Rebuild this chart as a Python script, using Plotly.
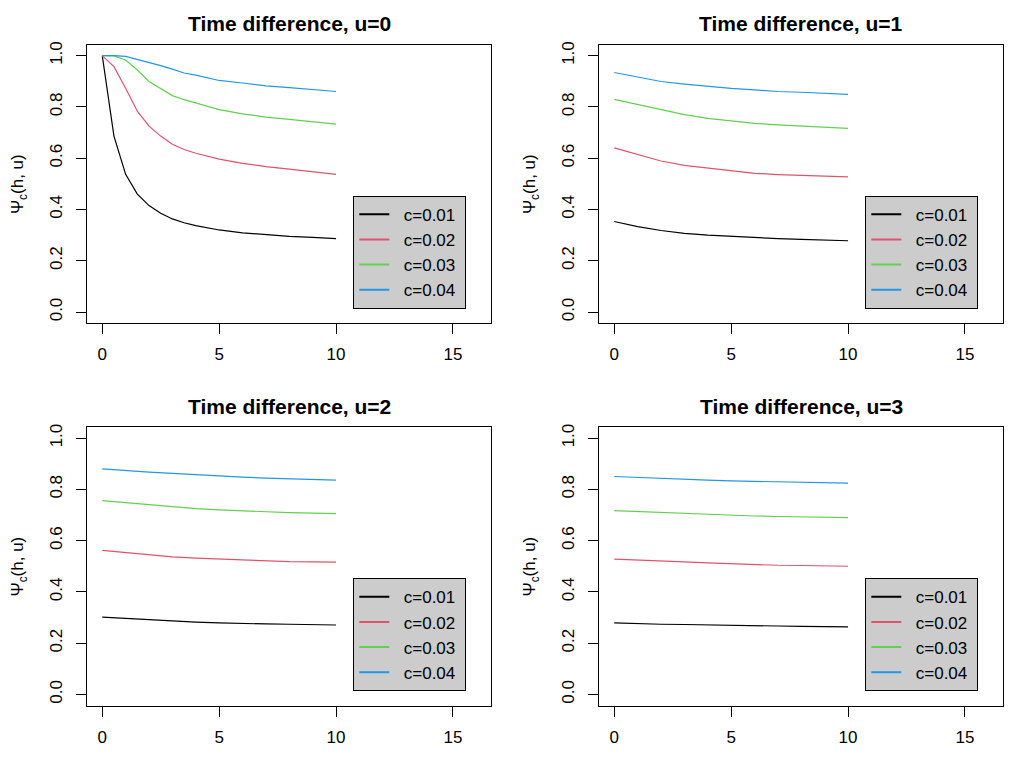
import plotly.graph_objects as go

# ---- data ----
series_names = ["c=0.01", "c=0.02", "c=0.03", "c=0.04"]
colors = ["#000000", "#DF536B", "#61D04F", "#2297E6"]
panel_titles = ["Time difference, u=0", "Time difference, u=1",
                "Time difference, u=2", "Time difference, u=3"]

h_u0 = [0, 0.5, 1, 1.5, 2, 2.5, 3, 3.5, 4, 5, 6, 7, 8, 9, 10]
u0_c01 = [1.0, 0.686, 0.537, 0.460, 0.415, 0.385, 0.363, 0.348, 0.337, 0.320, 0.309, 0.301, 0.295, 0.291, 0.286]
u0_c02 = [1.0, 0.957, 0.873, 0.783, 0.725, 0.686, 0.654, 0.634, 0.619, 0.596, 0.580, 0.567, 0.557, 0.548, 0.537]
u0_c03 = [1.0, 0.999, 0.983, 0.944, 0.899, 0.870, 0.844, 0.828, 0.815, 0.789, 0.773, 0.760, 0.751, 0.742, 0.733]
u0_c04 = [1.0, 1.0, 0.997, 0.986, 0.974, 0.961, 0.947, 0.932, 0.924, 0.903, 0.893, 0.882, 0.875, 0.867, 0.860]

h = [0, 1, 2, 3, 4, 5, 6, 7, 8, 9, 10]
u1_c01 = [0.353, 0.333, 0.318, 0.307, 0.300, 0.295, 0.289, 0.286, 0.283, 0.280, 0.278]
u1_c02 = [0.640, 0.615, 0.589, 0.572, 0.561, 0.550, 0.541, 0.536, 0.532, 0.530, 0.527]
u1_c03 = [0.829, 0.809, 0.787, 0.770, 0.755, 0.745, 0.736, 0.730, 0.725, 0.720, 0.716]
u1_c04 = [0.934, 0.916, 0.899, 0.889, 0.880, 0.872, 0.866, 0.860, 0.857, 0.853, 0.849]

u2_c01 = [0.302, 0.297, 0.291, 0.286, 0.282, 0.279, 0.276, 0.275, 0.274, 0.273, 0.271]
u2_c02 = [0.562, 0.554, 0.545, 0.537, 0.532, 0.528, 0.525, 0.521, 0.518, 0.517, 0.516]
u2_c03 = [0.756, 0.748, 0.739, 0.731, 0.725, 0.720, 0.716, 0.712, 0.709, 0.707, 0.705]
u2_c04 = [0.880, 0.873, 0.867, 0.862, 0.857, 0.851, 0.848, 0.844, 0.841, 0.838, 0.836]

u3_c01 = [0.279, 0.276, 0.274, 0.273, 0.271, 0.269, 0.267, 0.267, 0.266, 0.265, 0.264]
u3_c02 = [0.528, 0.525, 0.521, 0.517, 0.513, 0.509, 0.506, 0.504, 0.503, 0.501, 0.500]
u3_c03 = [0.717, 0.713, 0.709, 0.705, 0.702, 0.699, 0.696, 0.694, 0.692, 0.691, 0.690]
u3_c04 = [0.850, 0.846, 0.842, 0.839, 0.836, 0.833, 0.831, 0.829, 0.827, 0.826, 0.824]

panels = [
    (h_u0, [u0_c01, u0_c02, u0_c03, u0_c04]),
    (h, [u1_c01, u1_c02, u1_c03, u1_c04]),
    (h, [u2_c01, u2_c02, u2_c03, u2_c04]),
    (h, [u3_c01, u3_c02, u3_c03, u3_c04]),
]

x_ticks = [0, 5, 10, 15]
y_ticks = [0.0, 0.2, 0.4, 0.6, 0.8, 1.0]
y_tick_text = ["0.0", "0.2", "0.4", "0.6", "0.8", "1.0"]

# ---- layout geometry (window pixels; page body has an 8px margin) ----
OFF = 8
W, H = 1024 - 2 * OFF, 768 - 2 * OFF
col_x = [(87.3, 491.3), (599.3, 1003.3)]
row_y = [(41.7, 321.3), (425.7, 705.3)]


def px_x(p):
    return (p - OFF) / W


def px_y(p):
    return 1 - (p - OFF) / H


FONT = "Liberation Sans, Arial, sans-serif"
NB = "\u00a0"
fig = go.Figure()
layout = dict(
    width=W, height=H, margin=dict(l=0, r=0, t=0, b=0),
    paper_bgcolor="white", plot_bgcolor="white",
    font=dict(family=FONT, size=16, color="black"),
    showlegend=True,
)
annotations = []

for i, (xs, ys_list) in enumerate(panels):
    r, c = divmod(i, 2)
    ax = "" if i == 0 else str(i + 1)
    lg = "legend" if i == 0 else f"legend{i + 1}"
    for name, col, ys in zip(series_names, colors, ys_list):
        fig.add_trace(go.Scatter(
            x=xs, y=ys, mode="lines", name=name, showlegend=False,
            line=dict(color=col, width=1.2),
            xaxis="x" + ax, yaxis="y" + ax,
        ))
    # legend keys (thicker sample lines, as in the reference)
    for name, col in zip(series_names, colors):
        fig.add_trace(go.Scatter(
            x=[None], y=[None], mode="lines", name=NB * 2 + name + NB,
            line=dict(color=col, width=2),
            xaxis="x" + ax, yaxis="y" + ax, legend=lg, hoverinfo="skip",
        ))
    x0, x1 = col_x[c]
    y0, y1 = row_y[r]
    layout["xaxis" + ax] = dict(
        domain=[px_x(x0), px_x(x1)], range=[-0.64, 16.64], anchor="y" + ax,
        tickvals=x_ticks, ticks="outside", ticklen=10, tickcolor="black",
        showline=True, linecolor="black", linewidth=1, mirror=True,
        showgrid=False, zeroline=False, tickfont=dict(size=17),
        ticklabelstandoff=6,
    )
    layout["yaxis" + ax] = dict(
        domain=[px_y(y1), px_y(y0)], range=[-0.043, 1.043], anchor="x" + ax,
        tickvals=y_ticks, ticktext=y_tick_text, tickangle=270,
        ticks="outside", ticklen=10, tickcolor="black",
        showline=True, linecolor="black", linewidth=1, mirror=True,
        showgrid=False, zeroline=False, tickfont=dict(size=17),
        ticklabelstandoff=8,
    )
    layout[lg] = dict(
        x=px_x(x0 + 266), xanchor="left",
        y=px_y(y1 - 14.3), yanchor="bottom",
        bgcolor="#cccccc", bordercolor="black", borderwidth=1,
        font=dict(size=17, family=FONT), tracegroupgap=0,
        itemwidth=30,
    )
    annotations.append(dict(
        text="<b>" + panel_titles[i] + "</b>", x=px_x((x0 + x1) / 2), y=px_y(21 + r * 384),
        xref="paper", yref="paper", xanchor="center", yanchor="middle",
        showarrow=False, font=dict(size=21, family=FONT),
    ))
    annotations.append(dict(
        text="Ψ<sub>c</sub>(h, u)", x=px_x(x0 - 68), y=px_y((y0 + y1) / 2),
        xref="paper", yref="paper", xanchor="center", yanchor="middle",
        textangle=-90, showarrow=False, font=dict(size=17, family=FONT),
    ))

layout["annotations"] = annotations
fig.update_layout(**layout)
fig.write_html("out.html")
